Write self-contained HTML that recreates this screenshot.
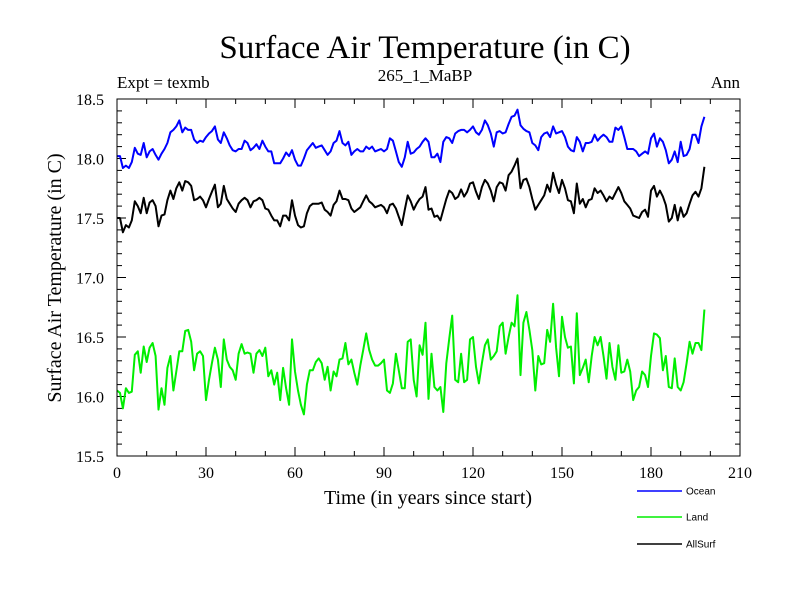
<!DOCTYPE html>
<html><head><meta charset="utf-8"><style>
body{margin:0;background:#fff;}
svg{display:block;}
</style></head><body>
<svg id="chart" width="800" height="600" xmlns="http://www.w3.org/2000/svg" font-family="Liberation Serif, serif">
<text x="425" y="58" font-size="33" text-anchor="middle">Surface Air Temperature (in C)</text>
<text x="117" y="88" font-size="17">Expt = texmb</text>
<text x="425" y="81" font-size="17" text-anchor="middle">265_1_MaBP</text>
<text x="740" y="88" font-size="17" text-anchor="end">Ann</text>
<text transform="translate(61,278) rotate(-90)" font-size="20" text-anchor="middle">Surface Air Temperature (in C)</text>
<text x="428" y="504" font-size="20" text-anchor="middle">Time (in years since start)</text>
<g id="axes"></g>
<g id="series"></g>
<g id="legend"></g>
<rect x="117" y="99" width="623" height="357" fill="none" stroke="#000" stroke-width="1"/>
</svg>
<script>
const xTicks = [0,30,60,90,120,150,180,210];
const yTicks = [15.5,16.0,16.5,17.0,17.5,18.0,18.5];
const seriesNames = ["Ocean","Land","AllSurf"];
const oceanValues = [18.02,18.02,17.92,17.94,17.92,17.97,18.09,18.04,18.03,18.13,18.01,18.06,18.08,18.03,17.99,18.04,18.08,18.13,18.22,18.24,18.27,18.32,18.22,18.26,18.24,18.24,18.16,18.13,18.15,18.14,18.18,18.21,18.23,18.27,18.16,18.13,18.22,18.17,18.11,18.07,18.06,18.08,18.08,18.15,18.13,18.07,18.09,18.12,18.08,18.15,18.10,18.06,18.06,17.96,17.96,17.96,18.00,18.05,18.02,18.07,17.99,17.94,17.94,18.00,18.07,18.10,18.13,18.09,18.10,18.11,
18.07,18.03,18.06,18.13,18.15,18.23,18.13,18.11,18.14,18.03,18.06,18.08,18.06,18.06,18.10,18.08,18.10,18.06,18.07,18.08,18.06,18.08,18.17,18.15,18.06,17.97,17.93,18.01,18.14,18.04,18.05,18.08,18.10,18.14,18.17,18.14,18.01,18.01,18.04,17.97,18.14,18.18,18.17,18.13,18.21,18.23,18.24,18.24,18.22,18.24,18.27,18.22,18.20,18.24,18.32,18.28,18.21,18.10,18.22,18.23,18.21,18.22,18.29,18.35,18.36,18.41,18.28,18.25,18.23,
18.22,18.13,18.11,18.07,18.18,18.21,18.22,18.18,18.27,18.21,18.22,18.23,18.18,18.10,18.07,18.06,18.18,18.14,18.06,18.13,18.13,18.14,18.20,18.15,18.18,18.20,18.18,18.14,18.14,18.26,18.24,18.27,18.18,18.08,18.08,18.08,18.06,18.02,18.04,18.06,18.04,18.17,18.21,18.10,18.17,18.14,18.07,17.96,17.99,18.06,17.97,18.14,18.02,18.03,18.08,18.20,18.20,18.13,18.27,18.35];
const landValues = [16.05,16.03,15.90,16.07,16.03,16.04,16.35,16.38,16.20,16.42,16.29,16.41,16.45,16.34,15.89,16.07,15.93,16.24,16.34,16.05,16.21,16.38,16.38,16.55,16.56,16.46,16.22,16.36,16.38,16.34,15.97,16.14,16.28,16.41,16.31,16.08,16.48,16.31,16.25,16.22,16.14,16.36,16.44,16.36,16.37,16.36,16.20,16.36,16.39,16.34,16.41,16.17,16.22,16.10,16.20,15.97,16.24,16.07,15.93,16.48,16.21,16.05,15.93,15.85,16.10,16.22,16.22,16.29,16.32,16.28,
16.14,16.25,16.05,16.21,16.17,16.31,16.32,16.45,16.27,16.31,16.20,16.10,16.26,16.39,16.53,16.39,16.31,16.26,16.26,16.28,16.31,16.05,16.03,16.11,16.36,16.22,16.07,16.07,16.46,16.48,16.14,16.00,16.43,16.35,16.62,15.98,16.36,16.08,16.05,16.08,15.87,16.28,16.49,16.68,16.14,16.12,16.36,16.12,16.14,16.48,16.50,16.25,16.11,16.28,16.43,16.48,16.31,16.34,16.38,16.59,16.62,16.36,16.50,16.62,16.59,16.85,16.18,16.62,16.71,
16.56,16.39,16.05,16.34,16.27,16.28,16.56,16.46,16.78,16.41,16.17,16.67,16.50,16.41,16.42,16.11,16.70,16.18,16.24,16.31,16.12,16.34,16.50,16.43,16.50,16.34,16.15,16.45,16.25,16.14,16.43,16.20,16.21,16.31,16.21,15.97,16.05,16.08,16.21,16.18,16.08,16.34,16.53,16.52,16.49,16.22,16.34,16.08,16.07,16.32,16.08,16.05,16.12,16.28,16.46,16.36,16.45,16.45,16.39,16.73];
const allSurfValues = [17.50,17.50,17.38,17.44,17.42,17.48,17.64,17.60,17.54,17.67,17.54,17.63,17.65,17.60,17.43,17.52,17.53,17.65,17.73,17.66,17.75,17.80,17.73,17.81,17.80,17.77,17.65,17.66,17.68,17.65,17.59,17.66,17.72,17.78,17.59,17.62,17.77,17.66,17.62,17.58,17.55,17.62,17.65,17.67,17.65,17.59,17.64,17.65,17.67,17.65,17.58,17.57,17.52,17.48,17.48,17.43,17.52,17.52,17.48,17.65,17.52,17.44,17.42,17.43,17.54,17.60,17.62,17.62,17.62,17.63,
17.57,17.55,17.52,17.61,17.64,17.73,17.66,17.66,17.65,17.58,17.55,17.57,17.59,17.64,17.69,17.64,17.62,17.59,17.60,17.61,17.59,17.54,17.61,17.62,17.58,17.51,17.44,17.57,17.69,17.64,17.57,17.62,17.66,17.68,17.76,17.57,17.58,17.51,17.52,17.48,17.57,17.66,17.73,17.71,17.66,17.68,17.74,17.68,17.72,17.79,17.80,17.72,17.66,17.76,17.82,17.79,17.73,17.64,17.76,17.80,17.79,17.73,17.86,17.89,17.94,18.00,17.75,17.82,17.83,
17.76,17.66,17.57,17.61,17.65,17.69,17.78,17.72,17.88,17.78,17.71,17.82,17.75,17.65,17.64,17.54,17.79,17.62,17.66,17.59,17.65,17.66,17.75,17.71,17.73,17.69,17.64,17.68,17.66,17.71,17.76,17.71,17.64,17.61,17.58,17.52,17.51,17.50,17.55,17.57,17.51,17.73,17.77,17.68,17.73,17.68,17.61,17.47,17.50,17.61,17.48,17.59,17.51,17.54,17.62,17.69,17.72,17.68,17.75,17.93];
const colors = ["#0000ff","#00ee00","#000000"];

const X0=117,X1=740,Y0=456,Y1=99;
function xs(v){return X0+(v-0)/(210-0)*(X1-X0);}
function ys(v){return Y0-(v-15.5)/(18.5-15.5)*(Y0-Y1);}
const NS="http://www.w3.org/2000/svg";
function mk(tag,attrs,parent){const e=document.createElementNS(NS,tag);for(const k in attrs)e.setAttribute(k,attrs[k]);parent.appendChild(e);return e;}
const axes=document.getElementById('axes');
// minor x ticks every 10
for(let v=0;v<=210;v+=10){
  const major=(v%30===0);const L=major?9:5;const x=xs(v);
  const t1=mk('line',{x1:x,y1:Y0,x2:x,y2:Y0-L,stroke:'#000'},axes);
  
  
  const t2=mk('line',{x1:x,y1:Y1,x2:x,y2:Y1+L,stroke:'#000'},axes);
  
  
}
xTicks.forEach(v=>{
  const t=mk('text',{x:xs(v),y:478,'font-size':16,'text-anchor':'middle'},axes);
  t.textContent=String(v);
  
  
});
for(let i=0;i<=30;i++){
  const v=15.5+i*0.1;const major=(i%5===0);const L=major?9:5;const y=ys(v);
  const t1=mk('line',{x1:X0,y1:y,x2:X0+L,y2:y,stroke:'#000'},axes);
  
  
  const t2=mk('line',{x1:X1,y1:y,x2:X1-L,y2:y,stroke:'#000'},axes);
  
  
}
yTicks.forEach(v=>{
  const t=mk('text',{x:104,y:ys(v)+6,'font-size':16,'text-anchor':'end'},axes);
  t.textContent=v.toFixed(1);
  
  
});
const sg=document.getElementById('series');
[oceanValues,landValues,allSurfValues].forEach((arr,si)=>{
  const pts=arr.map((v,i)=>xs(i).toFixed(1)+','+ys(v).toFixed(1)).join(' ');
  const p=mk('polyline',{points:pts,fill:'none',stroke:colors[si],'stroke-width':2,'stroke-linejoin':'round'},sg);
  
  
});
const lg=document.getElementById('legend');
const ly=[491,517,544];
seriesNames.forEach((n,i)=>{
  const l=mk('line',{x1:637,y1:ly[i],x2:682,y2:ly[i],stroke:colors[i],'stroke-width':1.5},lg);
  
  
  const t=mk('text',{x:686,y:ly[i]+3.5,'font-size':10,'font-family':'Liberation Sans, sans-serif'},lg);
  t.textContent=n;
  
  
});
</script>
</body></html>
